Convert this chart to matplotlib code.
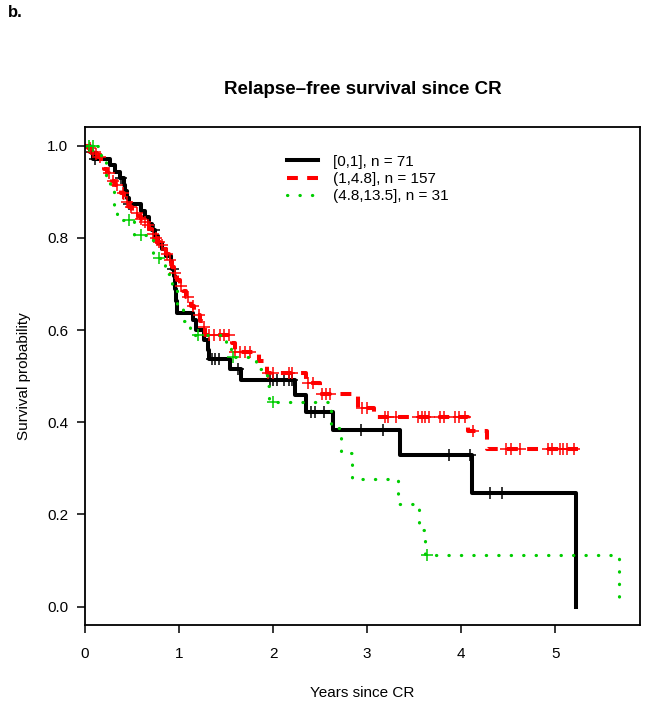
import numpy as np
import matplotlib
matplotlib.use("Agg")
import matplotlib.pyplot as plt
from matplotlib.lines import Line2D

plt.rcParams['font.family'] = ['Liberation Sans', 'DejaVu Sans']

# Kaplan-Meier step curves (time of event, survival after the event)
black_t = [0, 0.05, 0.08, 0.27, 0.32, 0.37, 0.41, 0.43, 0.45, 0.47, 0.60, 0.64, 0.68,
           0.71, 0.74, 0.78, 0.82, 0.86, 0.91, 0.93, 0.945, 0.955, 0.965, 0.975,
           1.15, 1.18, 1.27, 1.31, 1.32, 1.54, 1.66, 2.23, 2.35, 2.64, 3.35, 4.11, 5.22]
black_s = [1.0, 0.986, 0.972, 0.958, 0.944, 0.930, 0.915, 0.901, 0.887, 0.873, 0.859, 0.845, 0.831,
           0.817, 0.803, 0.789, 0.775, 0.761, 0.747, 0.733, 0.718, 0.690, 0.662, 0.636,
           0.622, 0.600, 0.578, 0.557, 0.537, 0.515, 0.492, 0.458, 0.423, 0.383, 0.328, 0.247, 0.0]
black_end = 5.22
black_cens = [0.07, 0.11, 0.38, 0.47, 0.73, 0.94, 1.35, 1.38, 1.42, 1.63, 1.97, 2.00, 2.04,
              2.12, 2.17, 2.20, 2.40, 2.45, 2.54, 2.93, 3.17, 3.87, 4.09, 4.31, 4.43]

red_t = [0, 0.03, 0.06, 0.10, 0.14, 0.17, 0.20, 0.23, 0.26, 0.29, 0.32, 0.35, 0.38, 0.41,
         0.44, 0.47, 0.50, 0.53, 0.56, 0.59, 0.62, 0.65, 0.68, 0.71, 0.74, 0.77, 0.80,
         0.83, 0.86, 0.89, 0.92, 0.95, 0.98, 1.01, 1.04, 1.07, 1.10, 1.13, 1.16, 1.19,
         1.22, 1.25, 1.28, 1.56, 1.59, 1.85, 1.93, 2.35, 2.50, 2.90, 3.07, 3.10, 4.07, 4.27]
red_s = [1.0, 0.994, 0.987, 0.981, 0.975, 0.962, 0.950, 0.941, 0.932, 0.924, 0.915, 0.906, 0.897, 0.887,
         0.877, 0.867, 0.859, 0.853, 0.847, 0.841, 0.835, 0.828, 0.819, 0.809, 0.800, 0.792, 0.784,
         0.775, 0.765, 0.752, 0.737, 0.724, 0.709, 0.696, 0.684, 0.672, 0.662, 0.652, 0.643, 0.632,
         0.620, 0.606, 0.589, 0.572, 0.553, 0.532, 0.507, 0.485, 0.462, 0.430, 0.420, 0.412, 0.380, 0.341]
red_end = 5.24
red_cens = [0.05, 0.09, 0.12, 0.16, 0.25, 0.30, 0.34, 0.40, 0.45, 0.49, 0.55, 0.60, 0.64, 0.67,
            0.72, 0.75, 0.79, 0.82, 0.87, 0.90, 0.96, 1.02, 1.09, 1.15, 1.21, 1.26, 1.32, 1.37,
            1.43, 1.48, 1.53, 1.60, 1.65, 1.70, 1.75, 1.95, 2.00, 2.17, 2.20, 2.37, 2.42, 2.52,
            2.56, 2.60, 2.95, 3.00, 3.19, 3.22, 3.31, 3.54, 3.58, 3.61, 3.66, 3.77, 3.82, 3.93,
            3.98, 4.04, 4.13, 4.48, 4.53, 4.62, 4.92, 4.96, 5.05, 5.08, 5.12, 5.20]

green_t = [0, 0.17, 0.22, 0.27, 0.31, 0.34, 0.52, 0.72, 0.85, 0.92, 0.98, 1.04, 1.12,
           1.50, 1.55, 1.82, 1.93, 1.96, 2.62, 2.72, 2.84, 3.33, 3.55, 3.62, 5.68]
green_s = [1.0, 0.968, 0.935, 0.903, 0.871, 0.839, 0.806, 0.757, 0.722, 0.688, 0.654, 0.620, 0.589,
           0.566, 0.542, 0.515, 0.479, 0.443, 0.388, 0.333, 0.277, 0.222, 0.166, 0.111, 0.0]
green_end = 5.68
green_cens = [0.04, 0.08, 0.47, 0.59, 0.79, 1.20, 1.57, 2.00, 3.64]

groups = ["[0,1], n = 71", "(1,4.8], n = 157", "(4.8,13.5], n = 31"]


def surv_at(t, s, x):
    idx = np.searchsorted(t, x, side='right') - 1
    return np.asarray(s)[idx]


fig = plt.figure(figsize=(6.49, 7.07), dpi=100)
ax = fig.add_axes([0.131, 0.116, 0.855, 0.704])

styles = [
    dict(color='black', lw=2.9, ls='-'),
    dict(color='#ff0000', lw=2.9, ls=(0, (2.7, 2.3))),
    dict(color='#00cd00', lw=2.3, ls=(0, (0.1, 3.8)), dash_capstyle='round'),
]
curves = [(black_t, black_s, black_end, black_cens),
          (red_t, red_s, red_end, red_cens),
          (green_t, green_s, green_end, green_cens)]

for (t, s, end, cens), st in zip(curves, styles):
    tt = list(t) + [end]
    ss = list(s) + [s[-1]]
    ax.step(tt, ss, where='post', **st)
    cy = surv_at(t, s, cens)
    ax.plot(cens, cy, ls='none', marker='+', color=st['color'], ms=8, mew=1.1)

ax.set_xlim(0, 5.9)
ax.set_ylim(-0.04, 1.04)
ax.set_xticks([0, 1, 2, 3, 4, 5])
ax.set_yticks([0.0, 0.2, 0.4, 0.6, 0.8, 1.0])
ax.set_yticklabels(["0.0", "0.2", "0.4", "0.6", "0.8", "1.0"])
ax.tick_params(direction='out', length=6, width=1.1, labelsize=11, pad=6)
ax.tick_params(axis='x', pad=10)
for sp in ax.spines.values():
    sp.set_linewidth(1.3)

ax.set_xlabel("Years since CR", fontsize=11, labelpad=18)
ax.set_ylabel("Survival probability", fontsize=11, labelpad=12)
fig.text(0.559, 0.874, "Relapse\u2013free survival since CR", ha='center', va='center',
         fontsize=13.5, fontweight='bold')
fig.text(0.012, 0.982, "b.", ha='left', va='center', fontsize=12, fontweight='bold')

handles = [Line2D([], [], **st) for st in styles]
ax.legend(handles, groups, loc='upper left', bbox_to_anchor=(0.364, 0.945),
          frameon=False, fontsize=11, handlelength=2.0, handletextpad=1.0,
          labelspacing=0.22, borderpad=0, borderaxespad=0)

fig.savefig("out.png", dpi=100)
